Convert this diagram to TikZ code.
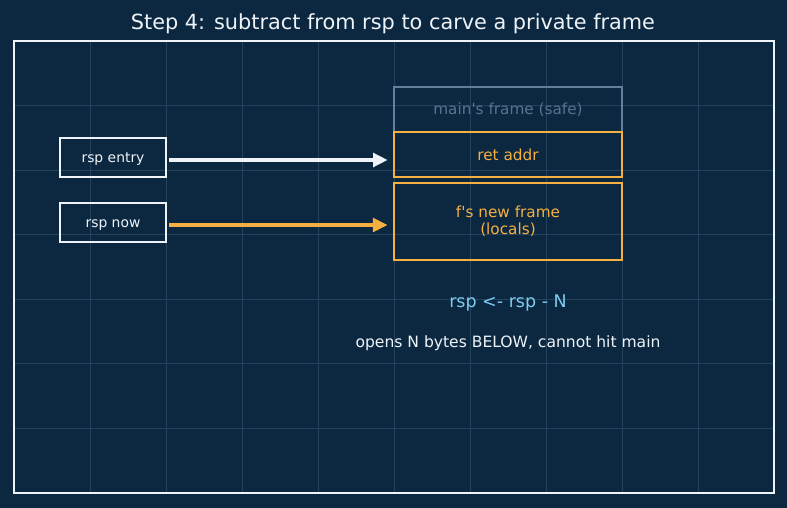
\documentclass[tikz,border=0pt]{standalone}
\usepackage{fontspec}
\setmainfont{DejaVu Sans}[Ligatures=TeXOff]
\usepackage{xcolor}
\usetikzlibrary{arrows.meta,positioning}

\definecolor{bgnavy}{HTML}{0C2840}
\definecolor{gridblue}{HTML}{23425C}
\definecolor{framewhite}{HTML}{EEF3F8}
\definecolor{stackorange}{HTML}{F5B041}
\definecolor{safegray}{HTML}{62809C}
\definecolor{safetext}{HTML}{56738F}
\definecolor{opblue}{HTML}{80CBF2}

\begin{document}
\begin{tikzpicture}[
        x=0.72pt, y=-0.72pt,
        font=\fontsize{11}{12.5}\selectfont,
        regbox/.style={rectangle, draw=framewhite, line width=1.4pt, text=framewhite,
                       minimum width=76.3pt, minimum height=28pt, inner sep=0pt,
                       text height=0.75em, text depth=0pt,
                       font=\fontsize{10}{12}\selectfont},
        slot/.style={rectangle, draw=stackorange, line width=1.4pt, text=stackorange,
                     minimum width=164pt, align=center, inner sep=0pt},
        safeslot/.style={slot, draw=safegray, text=safetext},
        ptr/.style={-{Triangle[length=10.5pt,width=10pt]}, line width=2.2pt,
                    shorten >=4pt, shorten <=1.4pt},
        gridline/.style={gridblue, line width=0.6pt}
    ]
        %--- Canvas and grid ---
        \useasboundingbox (0,0) rectangle (787,508);
        \fill[bgnavy] (0,0) rectangle (787,508);
        \foreach \i in {1,...,9}
            \draw[gridline] (14+76*\i,41) -- (14+76*\i,493);
        \foreach \j in {1,...,6}
            \draw[gridline] (14,41+452/7*\j) -- (774,41+452/7*\j);
        \draw[framewhite, line width=1.5pt] (14,41) rectangle (774,493);

        %--- Title ---
        \node[text=framewhite, font=\fontsize{15}{17}\selectfont] (title) at (393,24)
            {Step 4: subtract from rsp to carve a private frame};

        %--- Register boxes ---
        \node[regbox] (entry) at (113,157.5) {rsp entry};
        \node[regbox] (now) at (113,222.5) {rsp now};

        %--- Stack slots ---
        \node[safeslot, minimum height=32.4pt] (mainf) at (508,109.5) {main's frame (safe)};
        \node[slot, minimum height=32.4pt] (ret) at (508,154.5) {ret addr};
        \node[slot, minimum height=55.4pt, line width=1.6pt] (locals) at (508,221.5)
            {f's new frame\\(locals)};

        %--- Pointer arrows ---
        \draw[ptr, framewhite] ([yshift=-1.8pt]entry.east) -- ([yshift=-1.8pt]entry.east -| ret.west);
        \draw[ptr, stackorange] ([yshift=-1.8pt]now.east) -- ([yshift=-1.8pt]now.east -| locals.west);

        %--- Notes ---
        \node[text=opblue, font=\fontsize{12.6}{14}\selectfont] (op) at (508,303) {rsp <- rsp - N};
        \node[text=framewhite, font=\fontsize{11.2}{13}\selectfont] (note) at (508,343)
            {opens N bytes BELOW, cannot hit main};
    \end{tikzpicture}
\end{document}
